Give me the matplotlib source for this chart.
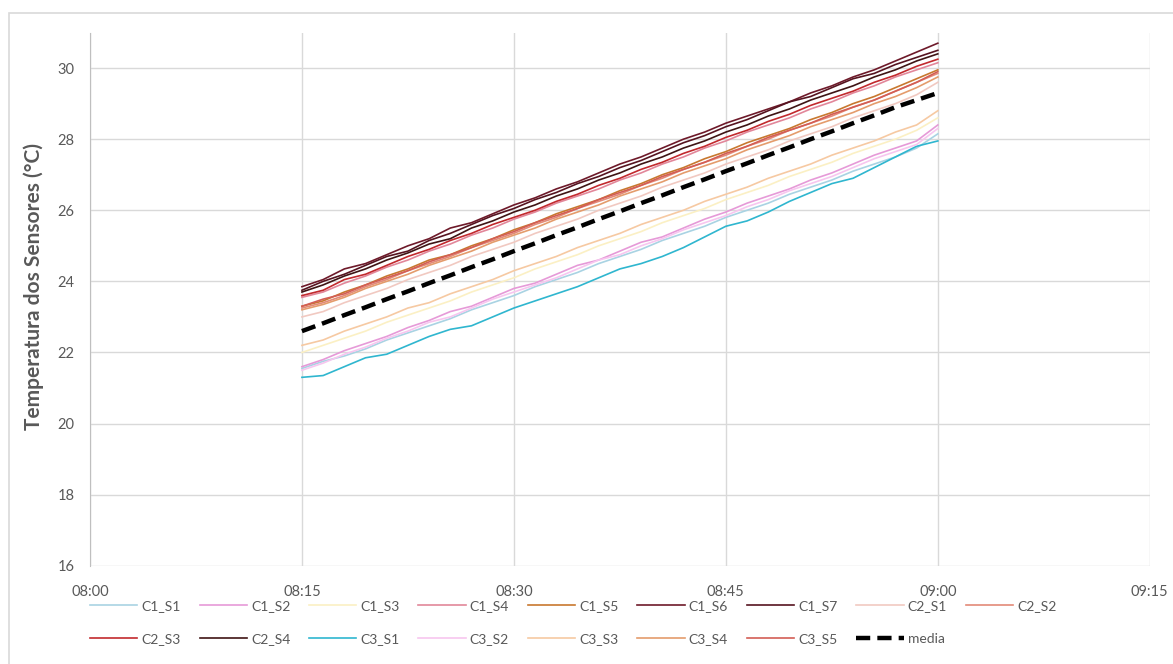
import matplotlib.pyplot as plt
from matplotlib.patches import Rectangle

plt.rcParams['font.family'] = ['Lato', 'DejaVu Sans']

# minutes after 08:00, one reading every 1.5 min from 08:15 to 09:00
minutes = [15 + 1.5 * i for i in range(31)]

tick_pos = [0, 15, 30, 45, 60, 75]
tick_labels = ["08:00", "08:15", "08:30", "08:45", "09:00", "09:15"]
y_ticks = [16, 18, 20, 22, 24, 26, 28, 30]

names = ["C1_S1", "C1_S2", "C1_S3", "C1_S4", "C1_S5", "C1_S6", "C1_S7",
         "C2_S1", "C2_S2", "C2_S3", "C2_S4",
         "C3_S1", "C3_S2", "C3_S3", "C3_S4", "C3_S5"]

colors = ["#a9d3e3", "#e69ad8", "#fbf0c4", "#e2879a", "#c8782f", "#6e1a2a",
          "#561420", "#f1c9c1", "#e38a78", "#c22a2e", "#3f1414",
          "#2fb6cf", "#f7c6ef", "#f6c9a2", "#e49c6c", "#d35e55"]

c1_s1 = [21.55, 21.75, 21.9, 22.1, 22.35, 22.55, 22.75, 22.95, 23.2, 23.4, 23.6,
         23.85, 24.05, 24.25, 24.5, 24.7, 24.9, 25.15, 25.35, 25.55, 25.8, 26.0,
         26.2, 26.45, 26.65, 26.85, 27.1, 27.3, 27.5, 27.75, 28.15]
c1_s2 = [21.6, 21.8, 22.05, 22.25, 22.45, 22.7, 22.9, 23.15, 23.3, 23.55, 23.8,
         23.95, 24.2, 24.45, 24.6, 24.85, 25.1, 25.25, 25.5, 25.75, 25.95, 26.2,
         26.4, 26.6, 26.85, 27.05, 27.3, 27.55, 27.75, 27.95, 28.4]
c1_s3 = [22.0, 22.2, 22.4, 22.6, 22.85, 23.05, 23.25, 23.45, 23.7, 23.9, 24.1,
         24.35, 24.55, 24.75, 25.0, 25.2, 25.4, 25.65, 25.85, 26.05, 26.3, 26.5,
         26.7, 26.95, 27.15, 27.35, 27.6, 27.8, 28.0, 28.25, 28.6]
c1_s4 = [23.55, 23.7, 23.95, 24.15, 24.4, 24.6, 24.85, 25.05, 25.3, 25.5, 25.75,
         25.95, 26.2, 26.4, 26.6, 26.85, 27.05, 27.3, 27.5, 27.75, 27.95, 28.2,
         28.4, 28.6, 28.85, 29.05, 29.3, 29.5, 29.75, 29.95, 30.15]
c1_s5 = [23.3, 23.45, 23.7, 23.9, 24.15, 24.35, 24.6, 24.75, 25.0, 25.2, 25.45,
         25.65, 25.9, 26.1, 26.3, 26.55, 26.75, 27.0, 27.2, 27.45, 27.65, 27.9,
         28.1, 28.3, 28.55, 28.75, 29.0, 29.2, 29.45, 29.7, 29.95]
c1_s6 = [23.85, 24.05, 24.35, 24.5, 24.75, 25.0, 25.2, 25.5, 25.65, 25.9, 26.15,
         26.35, 26.6, 26.8, 27.05, 27.3, 27.5, 27.75, 28.0, 28.2, 28.45, 28.65,
         28.85, 29.05, 29.3, 29.5, 29.75, 29.95, 30.2, 30.45, 30.7]
c1_s7 = [23.75, 24.0, 24.2, 24.45, 24.7, 24.85, 25.15, 25.35, 25.6, 25.85, 26.05,
         26.3, 26.5, 26.75, 26.95, 27.2, 27.4, 27.65, 27.9, 28.1, 28.35, 28.55,
         28.8, 29.05, 29.2, 29.45, 29.7, 29.85, 30.1, 30.3, 30.5]
c2_s1 = [23.0, 23.15, 23.4, 23.6, 23.8, 24.05, 24.25, 24.45, 24.7, 24.9, 25.1,
         25.35, 25.55, 25.75, 26.0, 26.2, 26.4, 26.65, 26.85, 27.05, 27.3, 27.5,
         27.7, 27.95, 28.15, 28.35, 28.6, 28.8, 29.0, 29.25, 29.6]
c2_s2 = [23.25, 23.4, 23.6, 23.85, 24.05, 24.3, 24.5, 24.7, 24.95, 25.15, 25.35,
         25.6, 25.8, 26.05, 26.25, 26.45, 26.7, 26.9, 27.15, 27.35, 27.55, 27.8,
         28.0, 28.25, 28.45, 28.65, 28.9, 29.1, 29.35, 29.6, 29.85]
c2_s3 = [23.6, 23.75, 24.05, 24.2, 24.45, 24.7, 24.9, 25.15, 25.35, 25.6, 25.8,
         26.0, 26.25, 26.45, 26.7, 26.9, 27.15, 27.35, 27.6, 27.8, 28.05, 28.25,
         28.5, 28.7, 28.95, 29.15, 29.35, 29.6, 29.8, 30.05, 30.25]
c2_s4 = [23.7, 23.9, 24.15, 24.35, 24.6, 24.8, 25.05, 25.2, 25.5, 25.7, 25.95,
         26.15, 26.4, 26.6, 26.85, 27.05, 27.3, 27.5, 27.75, 27.95, 28.2, 28.4,
         28.65, 28.85, 29.1, 29.3, 29.5, 29.75, 29.95, 30.2, 30.4]
c3_s1 = [21.3, 21.35, 21.6, 21.85, 21.95, 22.2, 22.45, 22.65, 22.75, 23.0, 23.25,
         23.45, 23.65, 23.85, 24.1, 24.35, 24.5, 24.7, 24.95, 25.25, 25.55, 25.7,
         25.95, 26.25, 26.5, 26.75, 26.9, 27.2, 27.5, 27.8, 27.95]
c3_s2 = [21.5, 21.7, 21.95, 22.15, 22.4, 22.6, 22.85, 23.0, 23.25, 23.5, 23.7,
         23.9, 24.1, 24.35, 24.6, 24.75, 25.0, 25.2, 25.45, 25.65, 25.85, 26.1,
         26.3, 26.55, 26.75, 26.95, 27.2, 27.45, 27.65, 27.85, 28.3]
c3_s3 = [22.2, 22.35, 22.6, 22.8, 23.0, 23.25, 23.4, 23.65, 23.85, 24.05, 24.3,
         24.5, 24.7, 24.95, 25.15, 25.35, 25.6, 25.8, 26.0, 26.25, 26.45, 26.65,
         26.9, 27.1, 27.3, 27.55, 27.75, 27.95, 28.2, 28.4, 28.8]
c3_s4 = [23.2, 23.35, 23.55, 23.8, 24.0, 24.2, 24.45, 24.65, 24.85, 25.1, 25.3,
         25.5, 25.75, 25.95, 26.15, 26.4, 26.6, 26.8, 27.05, 27.25, 27.45, 27.7,
         27.9, 28.1, 28.35, 28.55, 28.75, 29.0, 29.2, 29.45, 29.75]
c3_s5 = [23.3, 23.5, 23.65, 23.9, 24.1, 24.3, 24.55, 24.75, 24.95, 25.2, 25.4,
         25.65, 25.85, 26.05, 26.3, 26.5, 26.7, 26.95, 27.15, 27.35, 27.6, 27.8,
         28.05, 28.25, 28.45, 28.7, 28.9, 29.1, 29.35, 29.6, 29.9]
media = [22.6, 22.82, 23.05, 23.27, 23.5, 23.72, 23.95, 24.17, 24.4, 24.62, 24.85,
         25.07, 25.3, 25.52, 25.75, 25.97, 26.2, 26.42, 26.65, 26.87, 27.1, 27.32,
         27.55, 27.77, 28.0, 28.22, 28.45, 28.67, 28.9, 29.1, 29.3]

series = [c1_s1, c1_s2, c1_s3, c1_s4, c1_s5, c1_s6, c1_s7, c2_s1, c2_s2,
          c2_s3, c2_s4, c3_s1, c3_s2, c3_s3, c3_s4, c3_s5]

grey = "#595959"
fig = plt.figure(figsize=(11.73, 6.64), dpi=100)
ax = fig.add_axes([0.0767, 0.148, 0.9035, 0.803])

# chart area border
fig.patches.append(Rectangle((9 / 1173, -0.01), 1.02, 1 - 13 / 664 + 0.01,
                             transform=fig.transFigure, fill=False,
                             edgecolor="#d9d9d9", linewidth=1.2))

handles = []
for name, vals, col in zip(names, series, colors):
    h, = ax.plot(minutes, vals, color=col, linewidth=1.2, label=name)
    handles.append(h)
h, = ax.plot(minutes, media, color="black", linewidth=3.2,
             linestyle=(0, (3.2, 1.6)), label="media")
handles.append(h)

ax.set_xlim(0, 75)
ax.set_ylim(16, 31)
ax.set_xticks(tick_pos)
ax.set_xticklabels(tick_labels)
ax.set_yticks(y_ticks)
ax.grid(True, color="#d9d9d9", linewidth=1)
ax.set_axisbelow(True)
for s in ["top", "right", "bottom"]:
    ax.spines[s].set_visible(False)
ax.spines["left"].set_color("#bfbfbf")
ax.tick_params(axis="both", length=0, labelsize=10.5, labelcolor=grey)
ax.tick_params(axis="x", pad=14)
ax.tick_params(axis="y", pad=11)
ax.set_ylabel("Temperatura dos Sensores (°C)", fontsize=15,
              fontweight="bold", color=grey)
ax.yaxis.set_label_coords(-0.043, 0.523)

# legend: two rows, filled row by row
row1 = handles[:9]
row2 = handles[9:]
order = []
for k in range(9):
    order.append(row1[k])
    if k < len(row2):
        order.append(row2[k])
leg = fig.legend(order, [h.get_label() for h in order], ncol=9,
                 loc="upper left", bbox_to_anchor=(0.072, 0.105),
                 frameon=False, fontsize=10, handlelength=3.4,
                 handletextpad=0.3, columnspacing=1.35, labelspacing=1.5,
                 borderaxespad=0)
for t in leg.get_texts():
    t.set_color(grey)

fig.savefig("out.png", dpi=100)
